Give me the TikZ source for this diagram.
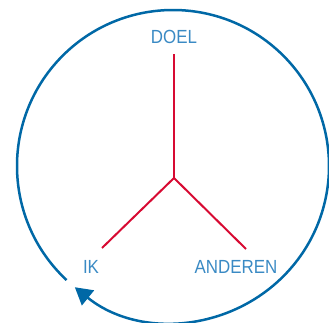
\documentclass[tikz,border=0pt]{standalone}
\usepackage{fontspec}
\setmainfont[FakeStretch=0.89]{Liberation Sans}
\usepackage{xcolor}
\usepackage{tikz}
\usetikzlibrary{arrows.meta}

\definecolor{ringblue}{RGB}{0,104,166}
\definecolor{labelblue}{RGB}{58,138,196}
\definecolor{spokered}{RGB}{215,10,50}

\tikzset{
  label/.style={text=labelblue, font=\fontsize{19}{21}\selectfont, inner sep=0pt},
  spoke/.style={spokered, line width=2pt},
  ring/.style={ringblue, line width=2.5pt, -{Triangle[length=17pt,width=19pt]}}
}

\begin{document}
\begin{tikzpicture}[x=1pt,y=1pt]
\useasboundingbox (0,0) rectangle (329,322);

% Circle
\coordinate (centre) at (173,156);
\draw[ring] ([shift={(227:156)}]centre) arc[start angle=227, end angle=-129, radius=156];

% Spokes
\coordinate (hub) at (174,144);
\coordinate (doelend) at (174,268);
\coordinate (ikend) at (102,74);
\coordinate (anderenend) at (246,73);
\draw[spoke] (hub) -- (doelend);
\draw[spoke] (hub) -- (ikend);
\draw[spoke] (hub) -- (anderenend);

% Labels
\node[label] (doel) at (174,285) {DOEL};
\node[label] (ik) at (91,55) {IK};
\node[label] (anderen) at (236,55) {ANDEREN};
\end{tikzpicture}
\end{document}
